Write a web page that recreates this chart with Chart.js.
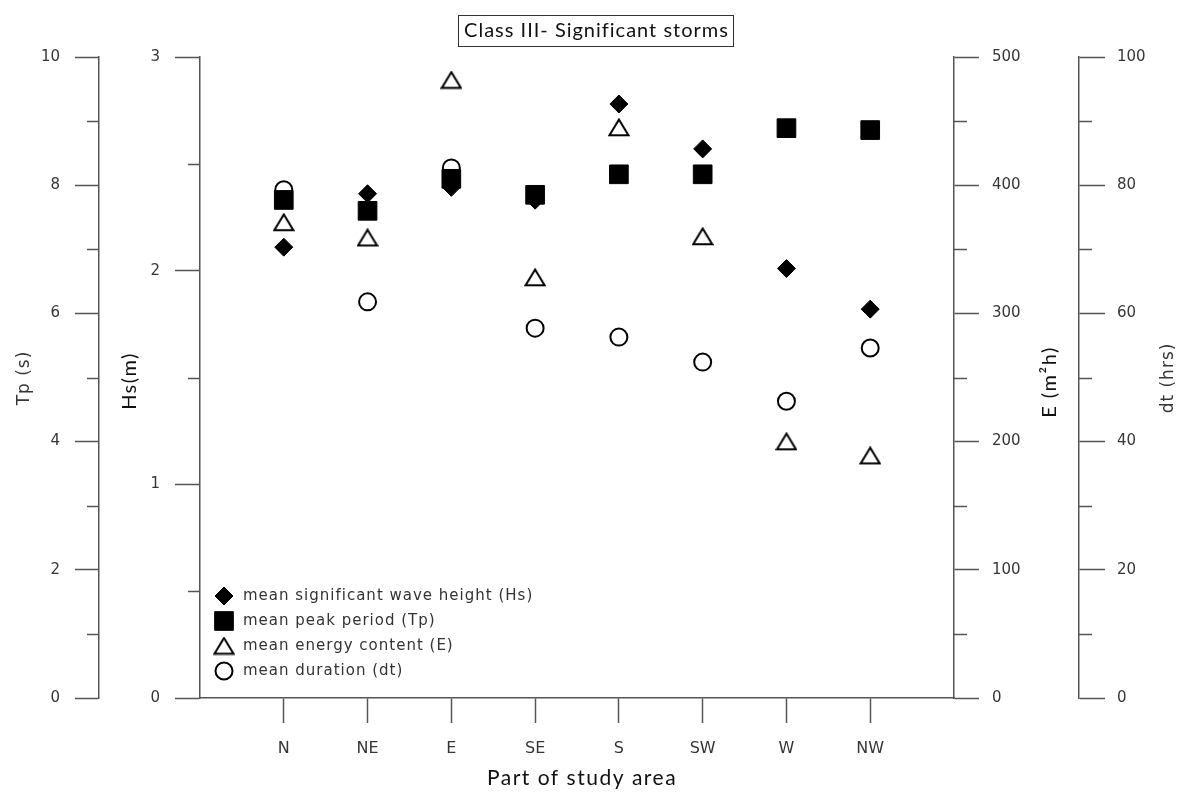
<!DOCTYPE html>
<html>
<head>
<meta charset="utf-8">
<title>Class III- Significant storms</title>
<script src="https://cdn.jsdelivr.net/npm/chart.js@4/dist/chart.umd.min.js"></script>
<style>
  html, body { margin: 0; padding: 0; background: #fff; }
  #wrap { width: 1185px; height: 793px; }
</style>
</head>
<body>
<div id="wrap"><canvas id="storms"></canvas></div>
<script>
// parts of the study area (x axis)
const parts = ['N', 'NE', 'E', 'SE', 'S', 'SW', 'W', 'NW'];

// mean values per part
const hsMean = [2.11, 2.36, 2.39, 2.33, 2.78, 2.57, 2.01, 1.82];   // m
const tpMean = [7.77, 7.60, 8.10, 7.85, 8.17, 8.17, 8.89, 8.86];   // s
const eMean = [371, 359, 482, 328, 445, 360, 200, 189];            // m2h
const dtMean = [79.3, 61.8, 82.7, 57.7, 56.3, 52.4, 46.3, 54.6];   // hrs

// major tick labels of the four value axes
const tpTicks = [0, 2, 4, 6, 8, 10];
const hsTicks = [0, 1, 2, 3];
const eTicks = [0, 100, 200, 300, 400, 500];
const dtTicks = [0, 20, 40, 60, 80, 100];

const axisGrey = '#555';
const labelGrey = '#363636';
const tickFont = { family: 'DejaVu Sans', size: 15 };

window.onload = function () {

    function toPoints(values) {
        return values.map((v, i) => ({ x: i + 1, y: v }));
    }

    // open triangle marker, centred on its bounding box like the original
    function triangleMarker() {
        const c = document.createElement('canvas');
        c.width = 22; c.height = 19;
        const g = c.getContext('2d');
        g.beginPath();
        g.moveTo(11, 1.5);
        g.lineTo(20.5, 17.2);
        g.lineTo(1.5, 17.2);
        g.closePath();
        g.fillStyle = '#fff';
        g.fill();
        g.lineWidth = 2;
        g.strokeStyle = '#000';
        g.stroke();
        return c;
    }

    function spacedText(ctx, text, x, y, font, color, spacing, rotate, align) {
        ctx.save();
        ctx.translate(x, y);
        if (rotate) ctx.rotate(-Math.PI / 2);
        ctx.font = font;
        ctx.fillStyle = color;
        ctx.textAlign = align || 'center';
        ctx.textBaseline = 'middle';
        if ('letterSpacing' in ctx) ctx.letterSpacing = spacing + 'px';
        ctx.fillText(text, 0, 0);
        const w = ctx.measureText(text).width;
        ctx.restore();
        return w;
    }

    // a value axis with fixed major ticks taken from one of the arrays above
    function valueAxis(position, weight, ticks, width, tickLength, padding) {
        return {
            type: 'linear',
            position: position,
            weight: weight,
            min: ticks[0],
            max: ticks[ticks.length - 1],
            afterBuildTicks: s => { s.ticks = ticks.map(v => ({ value: v })); },
            afterFit: s => { s.width = width; },
            border: { display: true, color: axisGrey, width: 1.5 },
            grid: { drawOnChartArea: false, tickLength: tickLength, tickColor: axisGrey, tickWidth: 1.5 },
            ticks: { font: tickFont, color: labelGrey, padding: padding, callback: v => String(v) },
            title: { display: false }
        };
    }

    // short ticks halfway between the major ones
    const minorTicks = {
        id: 'minorTicks',
        afterDraw(chart) {
            const ctx = chart.ctx;
            ctx.save();
            ctx.strokeStyle = axisGrey;
            ctx.lineWidth = 1.5;
            [['yTp', 12], ['yHs', 12], ['yE', 13], ['yDt', 13]].forEach(([id, len]) => {
                const s = chart.scales[id];
                const edge = s.position === 'left' ? s.right : s.left;
                const dir = s.position === 'left' ? -1 : 1;
                for (let i = 0; i < s.ticks.length - 1; i++) {
                    const y = Math.round(s.getPixelForValue((s.ticks[i].value + s.ticks[i + 1].value) / 2)) + 0.5;
                    ctx.beginPath();
                    ctx.moveTo(edge, y);
                    ctx.lineTo(edge + dir * len, y);
                    ctx.stroke();
                }
            });
            ctx.restore();
        }
    };

    // axis titles, boxed chart title and the legend inside the plot
    const decorations = {
        id: 'decorations',
        afterDraw(chart) {
            const ctx = chart.ctx;
            const a = chart.chartArea;
            const sc = chart.scales;

            spacedText(ctx, 'Tp (s)', sc.yTp.left + 25, 378, '17px "DejaVu Sans"', labelGrey, 1, true);
            spacedText(ctx, 'Hs(m)', sc.yHs.left + 31, 381, '20px Lato', '#111', 1.5, true);
            spacedText(ctx, 'E (m²h)', sc.yE.left + 96, 382, '20px Lato', '#111', 1.5, true);
            spacedText(ctx, 'dt (hrs)', sc.yDt.left + 90, 378, '17px "DejaVu Sans"', labelGrey, 1, true);
            spacedText(ctx, 'Part of study area', (a.left + a.right) / 2 + 5, 778, '21px Lato', '#111', 1.5, false);

            // title in its box
            const tx = chart.width / 2 + 4, ty = 31;
            const tw = spacedText(ctx, 'Class III- Significant storms', tx, ty, '20px Lato', '#111', 1, false);
            ctx.save();
            ctx.strokeStyle = '#333';
            ctx.lineWidth = 1;
            ctx.strokeRect(Math.round(tx - tw / 2 - 6) + 0.5, 15.5, Math.round(tw + 10), 31);
            ctx.restore();

            // legend
            chart.data.datasets.forEach((ds, i) => {
                const y = a.bottom - 102 + i * 25;
                const x = a.left + 24;
                ctx.save();
                ctx.fillStyle = ds.backgroundColor;
                ctx.strokeStyle = ds.borderColor;
                ctx.lineWidth = ds.borderWidth;
                Chart.helpers.drawPoint(ctx, {
                    pointStyle: ds.pointStyle,
                    radius: ds.pointRadius,
                    borderWidth: ds.borderWidth,
                    rotation: 0
                }, x, y);
                ctx.restore();
                spacedText(ctx, ds.label, a.left + 43, y, '15px "DejaVu Sans"', '#333', 1, false, 'left');
            });
        }
    };

    const ctx = document.getElementById('storms').getContext('2d');
    new Chart(ctx, {
        type: 'scatter',
        data: {
            datasets: [{
                label: 'mean significant wave height (Hs)',
                data: toPoints(hsMean),
                yAxisID: 'yHs',
                pointStyle: 'rectRot',
                pointRadius: 9,
                backgroundColor: '#000',
                borderColor: '#000',
                borderWidth: 1
            }, {
                label: 'mean peak period (Tp)',
                data: toPoints(tpMean),
                yAxisID: 'yTp',
                pointStyle: 'rect',
                pointRadius: 13.2,
                backgroundColor: '#000',
                borderColor: '#000',
                borderWidth: 1
            }, {
                label: 'mean energy content (E)',
                data: toPoints(eMean),
                yAxisID: 'yE',
                pointStyle: triangleMarker(),
                pointRadius: 10,
                backgroundColor: '#fff',
                borderColor: '#000',
                borderWidth: 2
            }, {
                label: 'mean duration (dt)',
                data: toPoints(dtMean),
                yAxisID: 'yDt',
                pointStyle: 'circle',
                pointRadius: 8.5,
                backgroundColor: '#fff',
                borderColor: '#000',
                borderWidth: 2
            }]
        },
        options: {
            responsive: true,
            maintainAspectRatio: false,
            animation: false,
            events: [],
            layout: { padding: { top: 57, left: 0, right: 0, bottom: 0 } },
            plugins: {
                legend: { display: false },
                tooltip: { enabled: false },
                title: { display: false }
            },
            scales: {
                x: {
                    type: 'linear',
                    position: 'bottom',
                    min: 0,
                    max: parts.length + 1,
                    afterBuildTicks: s => { s.ticks = parts.map((p, i) => ({ value: i + 1 })); },
                    afterFit: s => { s.height = 95; },
                    border: { display: true, color: axisGrey, width: 1.5 },
                    grid: { drawOnChartArea: false, tickLength: 25, tickColor: axisGrey, tickWidth: 1.5 },
                    ticks: {
                        font: { family: 'DejaVu Sans', size: 16 }, color: labelGrey, padding: 16,
                        autoSkip: false, maxRotation: 0,
                        callback: v => parts[v - 1] || ''
                    }
                },
                yTp: valueAxis('left', 1, tpTicks, 99, 24, 15),
                yHs: valueAxis('left', 0, hsTicks, 101, 25, 15),
                yE: valueAxis('right', 0, eTicks, 125, 25, 13),
                yDt: valueAxis('right', 1, dtTicks, 106, 26, 12)
            }
        },
        plugins: [minorTicks, decorations]
    });
};
</script>
</body>
</html>
